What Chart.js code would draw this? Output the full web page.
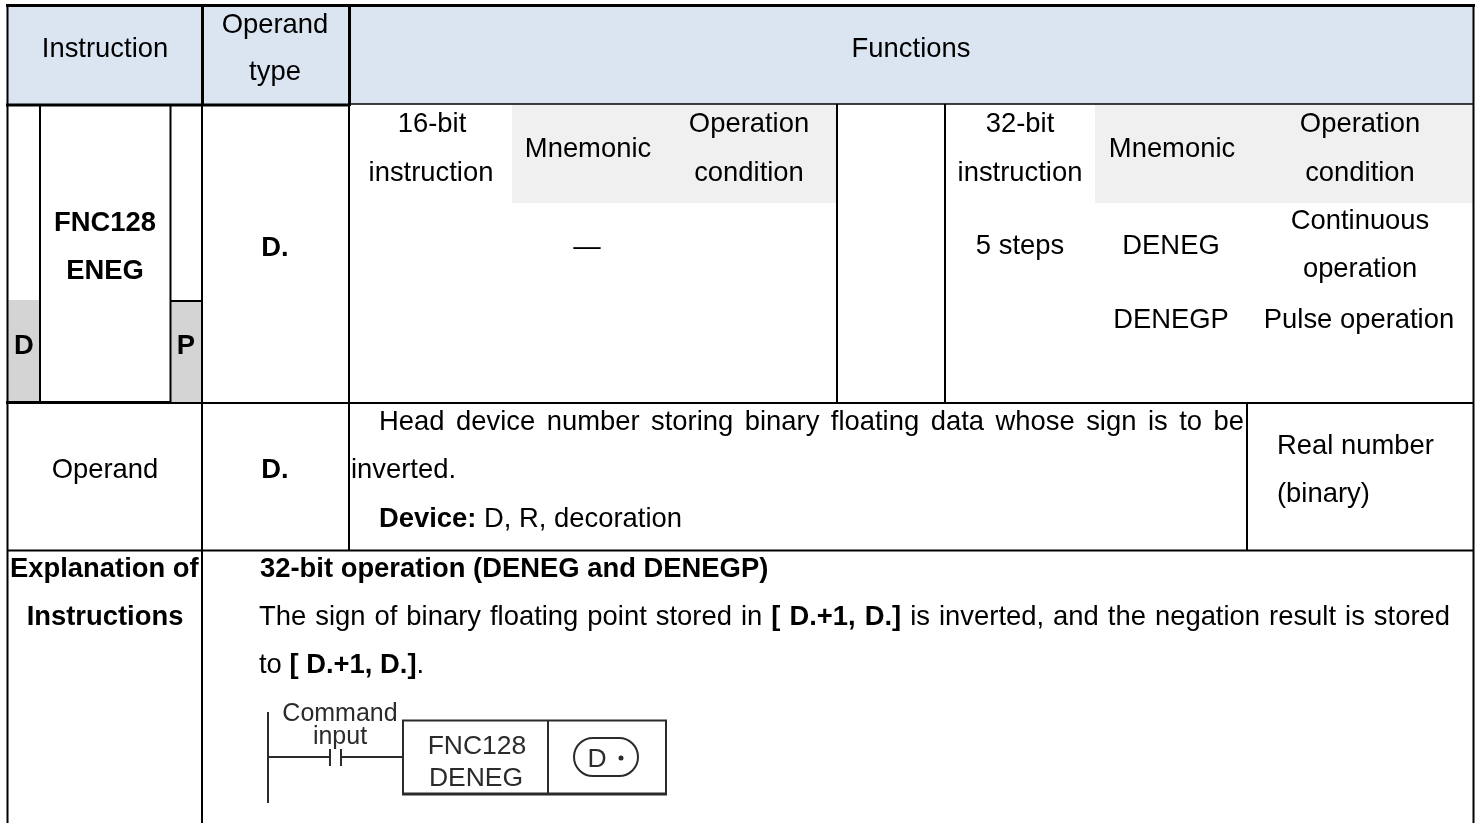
<!DOCTYPE html>
<html>
<head>
<meta charset="utf-8">
<title>FNC128 ENEG</title>
<script src="https://cdn.jsdelivr.net/npm/chart.js@4"></script>
<style>
  html, body { margin: 0; padding: 0; background: #fff; }
  canvas { display: block; }
</style>
</head>
<body>
<canvas id="tableChart" width="1479" height="823"></canvas>
<script>
// cell text
var plainLabels = ['Instruction', 'Operand', 'type', 'Functions', '16-bit', 'instruction', 'Mnemonic',
    'Operation', 'condition', '\u2014', '32-bit', 'instruction', 'Mnemonic', 'Operation', 'condition',
    '5 steps', 'DENEG', 'DENEGP', 'Continuous', 'operation', 'Pulse operation', 'Operand',
    'Real number', '(binary)'];
var boldLabels = ['FNC128', 'ENEG', 'D.', 'D', 'P', 'D.', 'Explanation of', 'Instructions',
    '32-bit operation (DENEG and DENEGP)'];
var paragraphLines = [
    [['Head device number storing binary floating data whose sign is to be', false]],
    [['inverted.', false]],
    [['Device:', true], [' D, R, decoration', false]],
    [['The sign of binary floating point stored in ', false], ['[ D.+1, D.]', true],
     [' is inverted, and the negation result is stored', false]],
    [['to ', false], ['[ D.+1, D.]', true], ['.', false]]
];
var diagramLabels = ['Command', 'input', 'FNC128', 'DENEG', 'D'];

// where the text sits, same order as the lists above: [x, baseline, align]
var plainAt = [[105, 57], [275, 33], [275, 80], [911, 57], [432, 132], [431, 181], [588, 157],
    [749, 132], [749, 181], [587, 255], [1020, 132], [1020, 181], [1172, 157], [1360, 132],
    [1360, 181], [1020, 254], [1171, 254], [1171, 328], [1360, 229], [1360, 277], [1359, 328],
    [105, 478], [1277, 454, 'left'], [1277, 502, 'left']];
var boldAt = [[105, 231], [105, 279], [275, 256], [24, 354], [186, 354], [275, 478],
    [10, 577, 'left'], [105, 625], [260, 577, 'left']];
// [x, baseline, right edge for justified lines]
var paragraphAt = [[379, 430, 1244], [351, 478], [379, 527], [259, 625, 1450], [259, 673]];
var diagramAt = [[340, 721], [340, 744], [477, 754], [476, 786], [597, 767]];

// filled cells: [left, top, right, bottom, colour]
var cellFills = [
    [8, 7, 1473, 104, '#dbe5f1'],
    [512, 105, 836, 203, '#f0f0f0'],
    [1095, 105, 1473, 203, '#f0f0f0'],
    [8, 300, 39, 402, '#d4d4d4'],
    [171, 301, 202, 402, '#d4d4d4']
];
// table rules: [x0, y0, x1, y1, width]
var tableRules = [
    [6, 5.5, 1475, 5.5, 3],
    [6, 105, 350, 105, 3],
    [350, 104, 1474, 104, 1.5],
    [6, 402.5, 170, 402.5, 3],
    [170, 403, 1474, 403, 2],
    [7, 550.5, 1474, 550.5, 2],
    [170, 301, 203, 301, 2],
    [7.5, 4, 7.5, 823, 2],
    [1473.5, 4, 1473.5, 823, 2],
    [202.5, 4, 202.5, 106, 3],
    [202, 106, 202, 823, 2],
    [349.5, 4, 349.5, 106, 3],
    [349, 106, 349, 551, 2],
    [40, 106, 40, 404, 2],
    [170.5, 106, 170.5, 404, 2],
    [837, 104, 837, 403, 2],
    [945, 104, 945, 403, 2],
    [1247, 403, 1247, 551, 2]
];
// ladder diagram strokes: [x0, y0, x1, y1, width]
var ladderRules = [
    [268, 712, 268, 803, 2],
    [268, 757, 330, 757, 2],
    [330, 749, 330, 766, 2],
    [341, 749, 341, 766, 2],
    [341, 757, 403, 757, 2],
    [402, 720.5, 667, 720.5, 2],
    [403, 720, 403, 795, 2],
    [402, 794, 667, 794, 3],
    [548, 720, 548, 794, 2],
    [666, 720, 666, 795, 2]
];
var operandOval = [574, 738, 638, 776];
var operandDot = [621, 758];

function segment(r, width, colour) {
    return {
        data: [{x: r[0], y: r[1]}, {x: r[2], y: r[3]}],
        showLine: true,
        borderColor: colour,
        borderWidth: width,
        pointRadius: 0,
        order: 1
    };
}

var datasets = [];
cellFills.forEach(function(c) {
    datasets.push({
        data: [{x: c[0], y: c[1]}, {x: c[2], y: c[1]}],
        showLine: true,
        borderWidth: 0,
        borderColor: 'transparent',
        backgroundColor: c[4],
        fill: {value: c[3]},
        pointRadius: 0,
        order: 3
    });
});
tableRules.forEach(function(r) {
    datasets.push(segment(r, r[4], '#000'));
});
ladderRules.forEach(function(r) {
    datasets.push(segment(r, r[4], '#2b2b2b'));
});
datasets.push({
    data: [{x: operandDot[0], y: operandDot[1]}],
    pointRadius: 2.5,
    pointBackgroundColor: '#2b2b2b',
    pointBorderWidth: 0,
    order: 1
});

var FONT = '"Liberation Sans", Arial, sans-serif';

function drawList(ctx, chart, labels, at, font, colour) {
    var xs = chart.scales.x, ys = chart.scales.y;
    ctx.font = font;
    ctx.fillStyle = colour;
    labels.forEach(function(text, i) {
        ctx.textAlign = at[i][2] || 'center';
        ctx.fillText(text, xs.getPixelForValue(at[i][0]), ys.getPixelForValue(at[i][1]));
    });
}

// mixed bold/plain lines, optionally stretched to a right edge
function drawParagraph(ctx, chart) {
    var xs = chart.scales.x, ys = chart.scales.y;
    ctx.textAlign = 'left';
    ctx.fillStyle = '#000';
    paragraphLines.forEach(function(line, i) {
        var spaces = 0, natural = 0;
        ctx.wordSpacing = '0px';
        line.forEach(function(run) {
            ctx.font = (run[1] ? 'bold ' : '') + '27.4px ' + FONT;
            natural += ctx.measureText(run[0]).width;
            spaces += run[0].split(' ').length - 1;
        });
        var at = paragraphAt[i];
        var extra = at[2] ? (at[2] - at[0] - natural) / spaces : 0;
        var x = xs.getPixelForValue(at[0]);
        ctx.wordSpacing = extra + 'px';
        line.forEach(function(run) {
            ctx.font = (run[1] ? 'bold ' : '') + '27.4px ' + FONT;
            ctx.fillText(run[0], x, ys.getPixelForValue(at[1]));
            x += ctx.measureText(run[0]).width;
        });
    });
    ctx.wordSpacing = '0px';
}

var tableText = {
    id: 'tableText',
    afterDatasetsDraw: function(chart) {
        var ctx = chart.ctx, xs = chart.scales.x, ys = chart.scales.y;
        ctx.save();
        ctx.textBaseline = 'alphabetic';
        drawList(ctx, chart, plainLabels, plainAt, '27.4px ' + FONT, '#000');
        drawList(ctx, chart, boldLabels, boldAt, 'bold 27.4px ' + FONT, '#000');
        drawParagraph(ctx, chart);
        drawList(ctx, chart, diagramLabels.slice(0, 2), diagramAt.slice(0, 2), '25px ' + FONT, '#2b2b2b');
        drawList(ctx, chart, diagramLabels.slice(2), diagramAt.slice(2), '26.5px ' + FONT, '#2b2b2b');

        var left = xs.getPixelForValue(operandOval[0]), top = ys.getPixelForValue(operandOval[1]);
        var right = xs.getPixelForValue(operandOval[2]), bottom = ys.getPixelForValue(operandOval[3]);
        ctx.strokeStyle = '#2b2b2b';
        ctx.lineWidth = 2;
        ctx.beginPath();
        ctx.roundRect(left, top, right - left, bottom - top, (bottom - top) / 2);
        ctx.stroke();
        ctx.restore();
    }
};

var tableChart = new Chart(document.getElementById('tableChart').getContext('2d'), {
    type: 'scatter',
    data: {datasets: datasets},
    options: {
        responsive: false,
        animation: false,
        layout: {padding: 0, autoPadding: false},
        plugins: {legend: {display: false}, tooltip: {enabled: false}},
        scales: {
            x: {type: 'linear', min: 0, max: 1479, display: false},
            y: {type: 'linear', min: 0, max: 823, reverse: true, display: false}
        }
    },
    plugins: [tableText]
});
</script>
</body>
</html>
